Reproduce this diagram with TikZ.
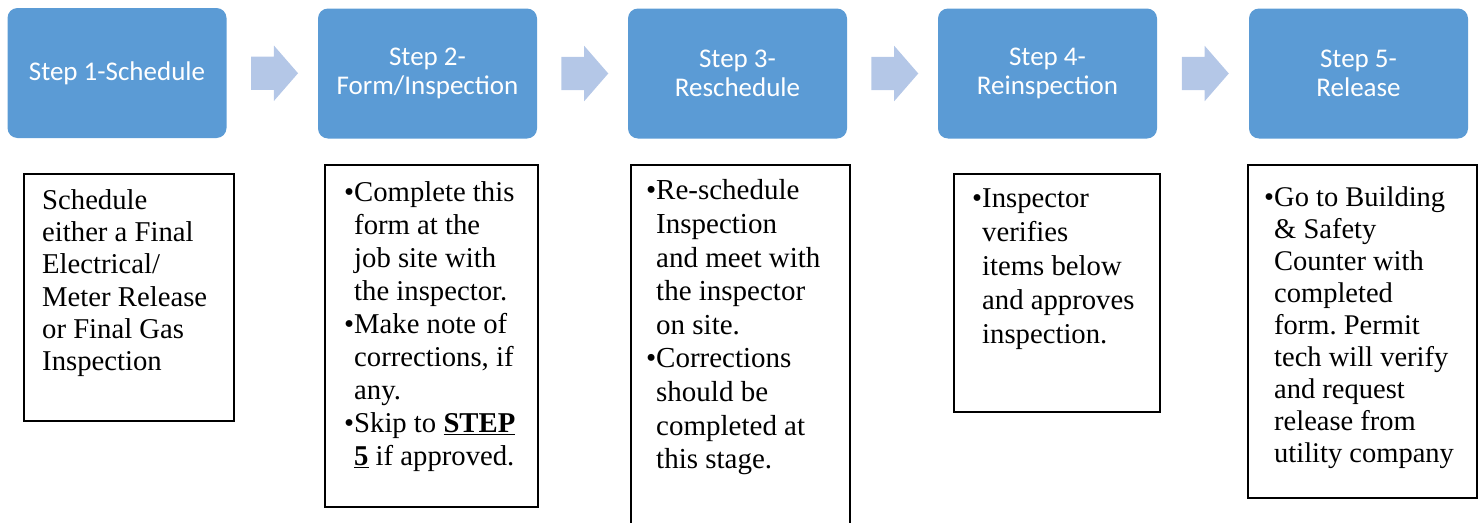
\documentclass[tikz,border=0pt]{standalone}
\usepackage{fontspec}
\setmainfont{Liberation Serif}
\newfontfamily\headfont{Carlito}
\usetikzlibrary{shapes.arrows,calc}
\definecolor{stepblue}{RGB}{91,155,213}
\definecolor{arrowblue}{RGB}{180,199,231}
\newcommand{\itembullet}{\llap{\textbullet}}
\frenchspacing

\begin{document}
\begin{tikzpicture}[x=1pt,y=-1pt,
  stepbox/.style={fill=stepblue,rounded corners=10pt,minimum width=219pt,minimum height=130pt,
    inner sep=0pt,text=white,align=center,font=\headfont\fontsize{27}{28.5}\selectfont},
  flowarrow/.style={single arrow,fill=arrowblue,minimum height=47pt,text height=16.5pt,text depth=16.5pt,
    single arrow head extend=11pt,single arrow head indent=0pt,single arrow tip angle=98,inner sep=0pt,xshift=-5pt},
  panel/.style={draw,line width=2.3pt,anchor=north west,inner sep=0pt},
  body/.style={anchor=north west,inner sep=0pt,align=left}]
  \useasboundingbox (0,0) rectangle (1483,522);
  \clip (0,0) rectangle (1483,522);
  \node[stepbox] (s1) at (117,73) {Step 1-Schedule};
  \node[stepbox] (s2) at (427.5,73.5) {Step 2-\\Form/Inspection};
  \node[stepbox] (s3) at (737.5,73.5) {Step 3-\\Reschedule};
  \node[stepbox] (s4) at (1047.5,73.5) {Step 4-\\Reinspection};
  \node[stepbox] (s5) at (1358.5,73.5) {Step 5-\\Release};
  \node[flowarrow] (a1) at ($(s1.east)!.5!(s2.west)$) {};
  \node[flowarrow] (a2) at ($(s2.east)!.5!(s3.west)$) {};
  \node[flowarrow] (a3) at ($(s3.east)!.5!(s4.west)$) {};
  \node[flowarrow] (a4) at ($(s4.east)!.5!(s5.west)$) {};
  \node[panel,minimum width=210pt,minimum height=247pt] (d1) at (23,173) {};
  \node[panel,minimum width=213pt,minimum height=342pt] (d2) at (324,164) {};
  \node[panel,minimum width=219pt,minimum height=380pt] (d3) at (630,164) {};
  \node[panel,minimum width=206pt,minimum height=238pt] (d4) at (953,173) {};
  \node[panel,minimum width=229pt,minimum height=333pt] (d5) at (1247,164) {};
  \node[body,font=\fontsize{28.7}{32.3}\selectfont] (t1) at (42,189)
    {Schedule\\either a Final\\Electrical/\\Meter Release\\or Final Gas\\Inspection};
  \node[body,font=\fontsize{28.7}{33}\selectfont] (t2) at (354,181.5)
    {\itembullet Complete this\\form at the\\job site with\\the inspector.\\
    \itembullet Make note of\\corrections, if\\any.\\\itembullet Skip to \underline{\textbf{STEP}}\\\underline{\textbf{5}} if approved.};
  \node[body,font=\fontsize{29}{33.6}\selectfont] (t3) at (656,179.5)
    {\itembullet Re-schedule\\Inspection\\and meet with\\the inspector\\on site.\\
    \itembullet Corrections\\should be\\completed at\\this stage.};
  \node[body,font=\fontsize{28.7}{34}\selectfont] (t4) at (982,189)
    {\itembullet Inspector\\verifies\\items below\\and approves\\inspection.};
  \node[body,font=\fontsize{28.5}{32}\selectfont] (t5) at (1274,187)
    {\itembullet Go to Building\\\& Safety\\Counter with\\completed\\form. Permit\\
    tech will verify\\and request\\release from\\utility company};
\end{tikzpicture}
\end{document}
